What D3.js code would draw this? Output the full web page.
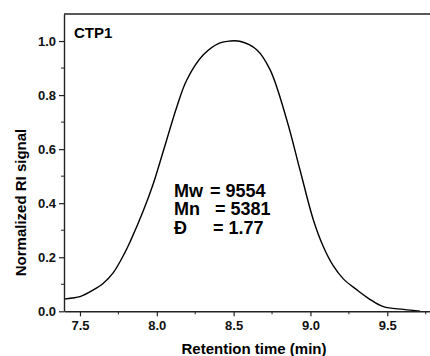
<!DOCTYPE html>
<html>
<head>
<meta charset="utf-8">
<script src="https://cdn.jsdelivr.net/npm/d3@7"></script>
<style>
  body { margin: 0; background: #fff; }
  svg { display: block; font-family: Arial, "Liberation Sans", sans-serif; font-weight: bold; }
</style>
</head>
<body>
<div id="chartContainer"></div>
<script>
// Values
const time = [7.396, 7.45, 7.5, 7.587, 7.65, 7.717, 7.793, 7.826, 7.912, 7.977, 8.042, 8.13, 8.195, 8.303, 8.411, 8.477,
    8.54, 8.65, 8.737, 8.846, 8.932, 9.019, 9.084, 9.149, 9.214, 9.3, 9.377, 9.475, 9.606, 9.714];
const signal = [0.045, 0.049, 0.054, 0.079, 0.103, 0.143, 0.218, 0.257, 0.372, 0.472, 0.592, 0.756, 0.856, 0.949, 0.993, 1.0,
    0.999, 0.968, 0.894, 0.708, 0.523, 0.338, 0.239, 0.168, 0.12, 0.08, 0.048, 0.017, 0.007, 0.0];
const xTicks = [7.5, 8.0, 8.5, 9.0, 9.5];
const xMinor = [7.75, 8.25, 8.75, 9.25, 9.75];
const yTicks = [0.0, 0.2, 0.4, 0.6, 0.8, 1.0];
const yMinor = [0.1, 0.3, 0.5, 0.7, 0.9];
const statLabels = ["Mw", "Mn", "Đ"];
const statValues = ["9554", "5381", "1.77"];

function createChart() {
    const width = 430;
    const height = 356;
    const left = 64, top = 14, right = 430, bottom = 311.3;

    const x = d3.scaleLinear().domain([7.396, 9.778]).range([left, right]);
    const y = d3.scaleLinear().domain([0, 1.1]).range([bottom, top]);

    const svg = d3.create("svg")
        .attr("width", width)
        .attr("height", height)
        .attr("viewBox", `0 0 ${width} ${height}`);

    // curve
    const line = d3.line()
        .x((d, i) => x(time[i]))
        .y(d => y(d))
        .curve(d3.curveCatmullRom.alpha(0.5));

    svg.append("path")
        .datum(signal)
        .attr("fill", "none")
        .attr("stroke", "#000")
        .attr("stroke-width", 1.4)
        .attr("d", line);

    // top frame
    svg.append("line")
        .attr("x1", left).attr("x2", right)
        .attr("y1", top).attr("y2", top)
        .attr("stroke", "#222").attr("stroke-width", 1.4);

    // x axis
    const xAxis = svg.append("g")
        .attr("transform", `translate(0,${bottom})`)
        .call(d3.axisBottom(x).tickValues(xTicks).tickFormat(d3.format(".1f")).tickSize(5).tickSizeOuter(0).tickPadding(4));
    xAxis.append("g").selectAll("line")
        .data(xMinor)
        .join("line")
        .attr("x1", d => x(d)).attr("x2", d => x(d))
        .attr("y1", 0).attr("y2", 3)
        .attr("stroke", "#222");

    // y axis
    const yAxis = svg.append("g")
        .attr("transform", `translate(${left},0)`)
        .call(d3.axisLeft(y).tickValues(yTicks).tickFormat(d3.format(".1f")).tickSize(5).tickSizeOuter(0).tickPadding(3));
    yAxis.append("g").selectAll("line")
        .data(yMinor)
        .join("line")
        .attr("y1", d => y(d)).attr("y2", d => y(d))
        .attr("x1", 0).attr("x2", -3)
        .attr("stroke", "#222");

    svg.selectAll(".domain").attr("stroke", "#222").attr("stroke-width", 1.4);
    svg.selectAll(".tick line").attr("stroke", "#222").attr("stroke-width", 1.2);
    svg.selectAll(".tick text")
        .attr("fill", "#111")
        .style("font-family", "Arial, 'Liberation Sans', sans-serif")
        .style("font-weight", "bold")
        .style("font-size", "13px");

    // axis titles
    svg.append("text")
        .attr("x", 254).attr("y", 353.5)
        .attr("text-anchor", "middle")
        .style("font-size", "15px")
        .text("Retention time (min)");

    svg.append("text")
        .attr("transform", "translate(26,202.5) rotate(-90)")
        .attr("text-anchor", "middle")
        .style("font-size", "15px")
        .text("Normalized RI signal");

    // sample name
    svg.append("text")
        .attr("x", 74).attr("y", 37.5)
        .style("font-size", "15px")
        .text("CTP1");

    // molecular weight stats
    const eqX = [210, 215, 213];
    const stats = svg.append("g").style("font-size", "18px");
    statLabels.forEach((s, i) => {
        const yy = 196.8 + i * 18.6;
        stats.append("text").attr("x", 174).attr("y", yy).text(s);
        stats.append("text").attr("x", eqX[i]).attr("y", yy).text("= " + statValues[i]);
    });

    return svg.node();
}

document.getElementById("chartContainer").appendChild(createChart());
</script>
</body>
</html>
